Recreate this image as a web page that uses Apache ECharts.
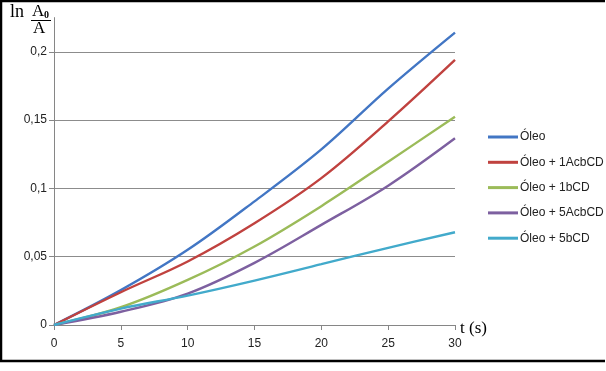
<!DOCTYPE html>
<html>
<head>
<meta charset="utf-8">
<script src="https://cdn.jsdelivr.net/npm/echarts@6/dist/echarts.min.js"></script>
<style>html,body{margin:0;padding:0;background:#fff}#c{width:606px;height:371px}</style>
</head>
<body>
<div id="c"></div>
<script>
const times = [0, 5, 10, 15, 20, 25, 30];
const seriesNames = ['Óleo', 'Óleo + 1AcbCD', 'Óleo + 1bCD', 'Óleo + 5AcbCD', 'Óleo + 5bCD'];
const oleo      = [0, 0.0255, 0.055, 0.0905, 0.1285, 0.173, 0.214];
const oleo1Acb  = [0, 0.024, 0.0465, 0.0745, 0.1075, 0.149, 0.194];
const oleo1b    = [0, 0.013, 0.033, 0.0575, 0.087, 0.1195, 0.1525];
const oleo5Acb  = [0, 0.0097, 0.023, 0.0455, 0.0733, 0.102, 0.1367];
const oleo5b    = [0, 0.012, 0.0215, 0.0325, 0.0445, 0.0565, 0.0679];
const yTicks = [0, 0.05, 0.1, 0.15, 0.2];
const xTicks = [0, 5, 10, 15, 20, 25, 30];
const colors = ['#4276C4', '#C0423F', '#9BBB59', '#7D60A0', '#42AACB'];

const allValues = [oleo, oleo1Acb, oleo1b, oleo5Acb, oleo5b];
const chart = echarts.init(document.getElementById('c'), null, {renderer: 'canvas'});
const fmt = v => String(v).replace('.', ',');
chart.setOption({
  animation: false,
  grid: {left: 54, right: 151, top: 17.6, bottom: 46, containLabel: false},
  xAxis: {
    type: 'value', min: 0, max: 30, interval: 5,
    axisLine: {lineStyle: {color: '#868686', width: 1}},
    axisTick: {show: true, length: 5, lineStyle: {color: '#868686'}, customValues: xTicks},
    axisLabel: {color: '#222', fontFamily: 'Liberation Sans', fontSize: 12, margin: 13, customValues: xTicks, formatter: fmt},
    splitLine: {show: false}
  },
  yAxis: {
    type: 'value', min: 0, max: 0.225, interval: 0.05,
    axisLine: {show: true, lineStyle: {color: '#868686', width: 1}},
    axisTick: {show: true, length: 5, lineStyle: {color: '#868686'}, customValues: yTicks},
    axisLabel: {color: '#222', fontFamily: 'Liberation Sans', fontSize: 12, margin: 7, customValues: yTicks, formatter: fmt},
    splitLine: {show: true, showMinLine: false, showMaxLine: true, lineStyle: {color: '#8c8c8c', width: 1}}
  },
  legend: {
    orient: 'vertical', left: 483, top: 125,
    icon: 'rect', itemWidth: 30, itemHeight: 3, itemGap: 11.3,
    textStyle: {color: '#222', fontFamily: 'Liberation Sans', fontSize: 12, lineHeight: 14, padding: [0, 0, 0, -3]},
    data: seriesNames
  },
  series: seriesNames.map((n, i) => ({
    name: n, type: 'line', smooth: 0.35, symbol: 'none',
    lineStyle: {width: 2.4, color: colors[i]}, itemStyle: {color: colors[i]},
    data: times.map((t, j) => [t, allValues[i][j]])
  })),
  graphic: [
    {type: 'polyline', shape: {points: [[605, 1], [1, 1], [1, 361], [605, 361]]}, style: {stroke: '#000', lineWidth: 2.5, fill: null}},
    {type: 'text', left: 10, top: 3, style: {text: 'ln', font: '18px "Liberation Serif"', fill: '#000'}},
    {type: 'text', left: 32, top: 3, style: {text: 'A', font: '17px "Liberation Serif"', fill: '#000'}},
    {type: 'text', left: 44, top: 10, style: {text: '0', font: 'bold 10px "Liberation Serif"', fill: '#000'}},
    {type: 'line', shape: {x1: 31, y1: 20.5, x2: 51, y2: 20.5}, style: {stroke: '#000', lineWidth: 1}},
    {type: 'text', left: 33, top: 20, style: {text: 'A', font: '17px "Liberation Serif"', fill: '#000'}},
    {type: 'text', left: 460, top: 320, style: {text: 't (s)', font: '17px "Liberation Serif"', fill: '#000'}}
  ]
});
</script>
</body>
</html>
